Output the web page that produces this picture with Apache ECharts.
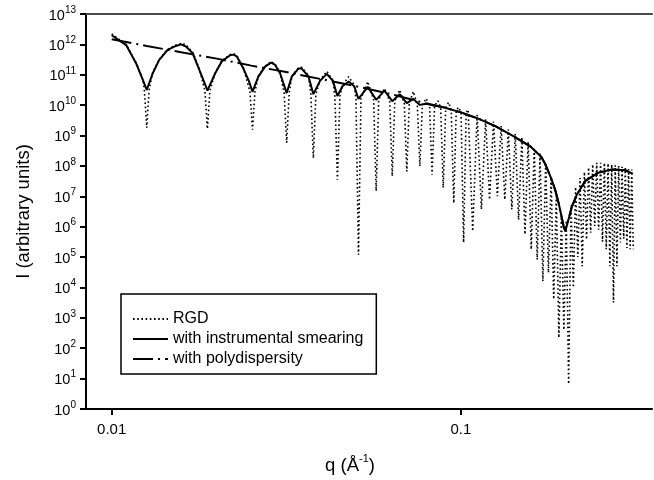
<!DOCTYPE html>
<html>
<head>
<meta charset="utf-8">
<script src="https://cdn.jsdelivr.net/npm/echarts@6/dist/echarts.min.js"></script>
<style>html,body{margin:0;padding:0;background:#fff;}#chart{width:654px;height:480px;}</style>
</head>
<body>
<div id="chart"></div>
<script>
// ---- data ----
const rgdQ = [
0.01000, 0.01100, 0.01174, 0.01228, 0.01240, 0.01260, 0.01280,
0.01310, 0.01368, 0.01446, 0.01527, 0.01590, 0.01632, 0.01706, 0.01782, 0.01849, 0.01880, 0.01911,
0.01977, 0.02066, 0.02183, 0.02230, 0.02282, 0.02383, 0.02488, 0.02530, 0.02572,
0.02630, 0.02749, 0.02860, 0.02938, 0.03037, 0.03117, 0.03170, 0.03223,
0.03279, 0.03425, 0.03500, 0.03660, 0.03717, 0.03780, 0.03843,
0.03950, 0.04130, 0.04300, 0.04356, 0.04430, 0.04504,
0.04580, 0.04770, 0.04950, 0.05006, 0.05090, 0.05174,
0.05410, 0.05625, 0.05720, 0.05815,
0.06040, 0.06254, 0.06360, 0.06466,
0.06680, 0.06884, 0.07000, 0.07116,
0.07310, 0.07503, 0.07630, 0.07757,
0.07950, 0.08133, 0.08270, 0.08407,
0.08590, 0.08752, 0.08900, 0.09048,
0.09220, 0.09382, 0.09540, 0.09698,
0.09860, 0.10010, 0.10180, 0.10350,
0.1049, 0.1081, 0.1113, 0.1145, 0.1177, 0.1208, 0.1240, 0.1272, 0.1304, 0.1336,
0.1367, 0.1399, 0.1431, 0.1463, 0.1495, 0.1526, 0.1558, 0.1590, 0.1622, 0.1654,
0.1685, 0.1717, 0.1749, 0.1781, 0.1813, 0.1844, 0.1876, 0.1908, 0.1940, 0.1972,
0.2003, 0.2035, 0.2067, 0.2099, 0.2131, 0.2162, 0.2194, 0.2226, 0.2258, 0.2290,
0.2321, 0.2353, 0.2385, 0.2417, 0.2449, 0.2480, 0.2512, 0.2544, 0.2576, 0.2608,
0.2639, 0.2671, 0.2703, 0.2735, 0.2767, 0.2798, 0.2830, 0.2862, 0.2894, 0.2926,
0.2957, 0.2989, 0.3021, 0.3053, 0.3085, 0.3116
];
const rgdI = [
2.2e12, 1.0e12, 2.5e11, 7.1e10, 3.2e10, 1.8e9, 3.2e10,
1.17e11, 3.2e11, 6.9e11, 9.5e11, 1.1e12, 9.5e11, 5.5e11, 1.6e11, 3.0e10, 1.66e9, 3.0e10,
1.15e11, 2.9e11, 4.6e11, 5.0e11, 4.3e11, 1.7e11, 2.8e10, 1.55e9, 2.8e10,
9.0e10, 1.9e11, 2.75e11, 2.2e11, 1.15e11, 2.5e10, 5.8e8, 2.5e10,
9.0e10, 1.7e11, 1.75e11, 9.5e10, 2.3e10, 1.8e8, 2.3e10,
6.6e10, 1.3e11, 6.6e10, 2.0e10, 3.5e7, 2.0e10,
4.5e10, 8.7e10, 4.5e10, 1.6e10, 1.2e5, 1.6e10,
6.0e10, 1.5e10, 1.5e7, 1.5e10,
3.6e10, 1.35e10, 4.6e7, 1.35e10,
3.2e10, 1.17e10, 6.6e7, 1.17e10,
2.8e10, 1.0e10, 9.8e7, 1.0e10,
1.66e10, 9.5e9, 5.1e7, 9.5e9,
1.4e10, 8.2e9, 1.9e7, 8.2e9,
1.23e10, 6.9e9, 6.0e6, 6.9e9,
8.5e9, 5.6e9, 3.0e5, 5.6e9,
7.1e9, 7.1e5, 4.8e9, 3.7e6, 3.5e9, 7.8e6, 2.9e9, 1.0e7, 2.1e9, 7.8e6,
1.6e9, 3.7e6, 1.15e9, 1.7e6, 8.9e8, 5.6e5, 6.3e8, 1.8e5, 4.0e8, 8.3e4,
2.7e8, 1.6e4, 1.3e8, 3.1e4, 4.2e7, 4.1e3, 1.0e7, 2.2e2, 2.5e6, 4.0e2,
1.6e6, 6.6, 5.0e6, 1.0e4, 2.0e7, 1.0e5, 4.0e7, 5.0e4, 6.3e7, 3.8e5,
8.9e7, 6.3e5, 1.12e8, 1.05e6, 1.26e8, 7.9e5, 1.26e8, 3.2e5, 1.26e8, 1.8e5,
1.2e8, 5.0e4, 1.12e8, 3.2e3, 1.05e8, 5.0e4, 1.0e8, 3.0e5, 9.3e7, 4.0e5,
8.5e7, 2.0e5, 7.9e7, 1.8e5, 7.6e7, 1.8e5
];

const smearQ = [
0.0100, 0.0110, 0.01174, 0.01228, 0.0126, 0.0131, 0.01368, 0.01446, 0.01527, 0.0158, 0.01632, 0.01706, 0.01782, 0.01862, 0.0188,
0.01977, 0.02066, 0.02183, 0.0223, 0.02282, 0.02383, 0.0247, 0.0253,
0.0263, 0.02749, 0.0286, 0.02938, 0.03037, 0.0317,
0.03279, 0.03425, 0.0350, 0.0366, 0.0378,
0.0395, 0.0413, 0.0430, 0.0443,
0.0458, 0.0477, 0.0495, 0.0509,
0.0541, 0.0572, 0.0604, 0.0636, 0.0668, 0.0700, 0.0731, 0.0763, 0.0795, 0.0827,
0.0891, 0.1000, 0.1122, 0.1259, 0.1413, 0.1585, 0.1698, 0.1744, 0.1815, 0.1860, 0.1905, 0.1968, 0.1990, 0.2033, 0.2080, 0.2150, 0.2271, 0.2373, 0.2473, 0.2709, 0.2957, 0.3101
];
const smearI = [
2.0e12, 9.5e11, 2.4e11, 6.8e10, 3.2e10, 1.1e11, 3.1e11, 6.6e11, 8.9e11, 1.0e12, 8.5e11, 5.1e11, 1.45e11, 4.1e10, 3.0e10,
1.1e11, 2.75e11, 4.4e11, 4.6e11, 4.0e11, 1.6e11, 6.3e10, 2.75e10,
8.7e10, 1.86e11, 2.5e11, 2.1e11, 1.1e11, 2.5e10,
8.7e10, 1.6e11, 1.6e11, 8.9e10, 2.3e10,
6.3e10, 1.07e11, 6.3e10, 2.0e10,
4.2e10, 6.0e10, 4.2e10, 1.6e10,
4.0e10, 1.5e10, 3.0e10, 1.35e10, 2.3e10, 1.17e10, 1.6e10, 1.02e10, 1.12e10, 1.0e10,
8.5e9, 5.8e9, 3.6e9, 2.0e9, 9.5e8, 4.3e8, 2.0e8, 1.15e8, 3.8e7, 1.7e7, 6.0e6, 1.05e6, 7.1e5, 1.74e6, 4.7e6, 1.15e7, 3.2e7, 4.4e7, 6.0e7, 7.6e7, 7.2e7, 5.6e7
];

const polyQ = [0.0100, 0.0126, 0.0158, 0.0200, 0.0251, 0.0316, 0.0398, 0.0501, 0.0631, 0.0794, 0.0891, 0.1000, 0.1122, 0.1259, 0.1413, 0.1585, 0.1698, 0.1744, 0.1815, 0.1860, 0.1905, 0.1968, 0.1990, 0.2033, 0.2080, 0.2150, 0.2271, 0.2373, 0.2473, 0.2709, 0.2957, 0.3101];
const polyI = [1.48e12, 8.9e11, 5.5e11, 3.4e11, 2.0e11, 1.23e11, 7.2e10, 4.2e10, 2.3e10, 1.15e10, 8.5e9, 5.8e9, 3.6e9, 2.0e9, 9.5e8, 4.3e8, 2.0e8, 1.15e8, 3.8e7, 1.7e7, 6.0e6, 1.05e6, 7.1e5, 1.74e6, 4.7e6, 1.15e7, 3.2e7, 4.4e7, 6.0e7, 7.6e7, 7.2e7, 5.6e7];

const seriesNames = ['RGD', 'with instrumental smearing', 'with polydispersity'];
const xTickValues = [0.01, 0.1];
const xTickLabels = ['0.01', '0.1'];
const xRange = [0.008441, 0.3526];
const yRange = [1, 1e13];

// ---- chart ----
const FONT = "'Liberation Sans', Arial, Helvetica, sans-serif";
const zip = (qs, is) => qs.map((q, k) => [q, is[k]]);

const chart = echarts.init(document.getElementById('chart'), null, {renderer: 'canvas'});
chart.setOption({
  animation: false,
  backgroundColor: '#fff',
  color: ['#000', '#000', '#000'],
  textStyle: {fontFamily: FONT, color: '#000'},
  grid: {left: 86, right: 2, top: 14, bottom: 70, containLabel: false},
  legend: {
    orient: 'vertical', left: 121, top: 294,
    padding: [16, 13, 6, 11],
    itemGap: 2, itemWidth: 35, itemHeight: 18,
    borderColor: '#000', borderWidth: 1.5, borderRadius: 0,
    backgroundColor: '#fff',
    selectedMode: false,
    itemStyle: {opacity: 0, borderWidth: 0},
    textStyle: {fontFamily: FONT, fontSize: 16, color: '#000', lineHeight: 18},
    data: seriesNames
  },
  xAxis: [{
    type: 'log', logBase: 10, min: xRange[0], max: xRange[1],
    name: '{n|q (Å}{s|-1}{n|)}',
    nameLocation: 'middle', nameGap: 44,
    nameTextStyle: {
      fontFamily: FONT, color: '#000', padding: [0, 38, 0, 0],
      rich: {
        n: {fontFamily: FONT, fontSize: 18.5, lineHeight: 22, color: '#000', verticalAlign: 'bottom'},
        s: {fontFamily: FONT, fontSize: 11, lineHeight: 14, color: '#000', verticalAlign: 'top'}
      }
    },
    axisLine: {show: true, onZero: false, lineStyle: {color: '#000', width: 2}},
    axisTick: {show: true, inside: false, length: 6, lineStyle: {color: '#000', width: 2}, customValues: xTickValues},
    axisLabel: {
      customValues: xTickValues, margin: 13, fontSize: 15, color: '#000', fontFamily: FONT,
      formatter: function (v) {
        const i = xTickValues.findIndex(t => Math.abs(t - v) / t < 1e-6);
        return i >= 0 ? xTickLabels[i] : '';
      }
    },
    splitLine: {show: false}
  }, {
    type: 'value', position: 'top', min: 0, max: 1,
    axisLine: {show: true, lineStyle: {color: '#4a4a4a', width: 2}},
    axisTick: {show: false}, axisLabel: {show: false}, splitLine: {show: false}
  }],
  yAxis: {
    type: 'log', logBase: 10, min: yRange[0], max: yRange[1], interval: 1,
    name: 'I (arbitrary units)', nameLocation: 'middle', nameGap: 53,
    nameTextStyle: {fontFamily: FONT, fontSize: 18.5, color: '#000'},
    axisLine: {show: true, onZero: false, lineStyle: {color: '#000', width: 2}},
    axisTick: {show: true, inside: false, length: 6, lineStyle: {color: '#000', width: 2}},
    axisLabel: {
      margin: 10, color: '#000', fontFamily: FONT,
      formatter: function (v) {
        const e = Math.round(Math.log10(v));
        return '{b|10}{e|' + e + '}';
      },
      rich: {
        b: {fontFamily: FONT, fontSize: 14.5, lineHeight: 18, color: '#000', verticalAlign: 'bottom'},
        e: {fontFamily: FONT, fontSize: 10, lineHeight: 10, color: '#000', verticalAlign: 'top'}
      }
    },
    splitLine: {show: false}
  },
  series: [{
    name: seriesNames[0], type: 'line', xAxisIndex: 0, showSymbol: false, symbol: 'none', silent: true,
    itemStyle: {color: '#000'},
    lineStyle: {color: '#000', width: 1.6, type: [1.6, 2.6]},
    data: zip(rgdQ, rgdI)
  }, {
    name: seriesNames[1], type: 'line', xAxisIndex: 0, showSymbol: false, symbol: 'none', silent: true,
    itemStyle: {color: '#000'},
    lineStyle: {color: '#000', width: 2},
    data: zip(smearQ, smearI)
  }, {
    name: seriesNames[2], type: 'line', xAxisIndex: 0, showSymbol: false, symbol: 'none', silent: true,
    itemStyle: {color: '#000'},
    lineStyle: {color: '#000', width: 2, type: [20, 5, 2, 5]},
    data: zip(polyQ, polyI)
  }]
});
</script>
</body>
</html>
